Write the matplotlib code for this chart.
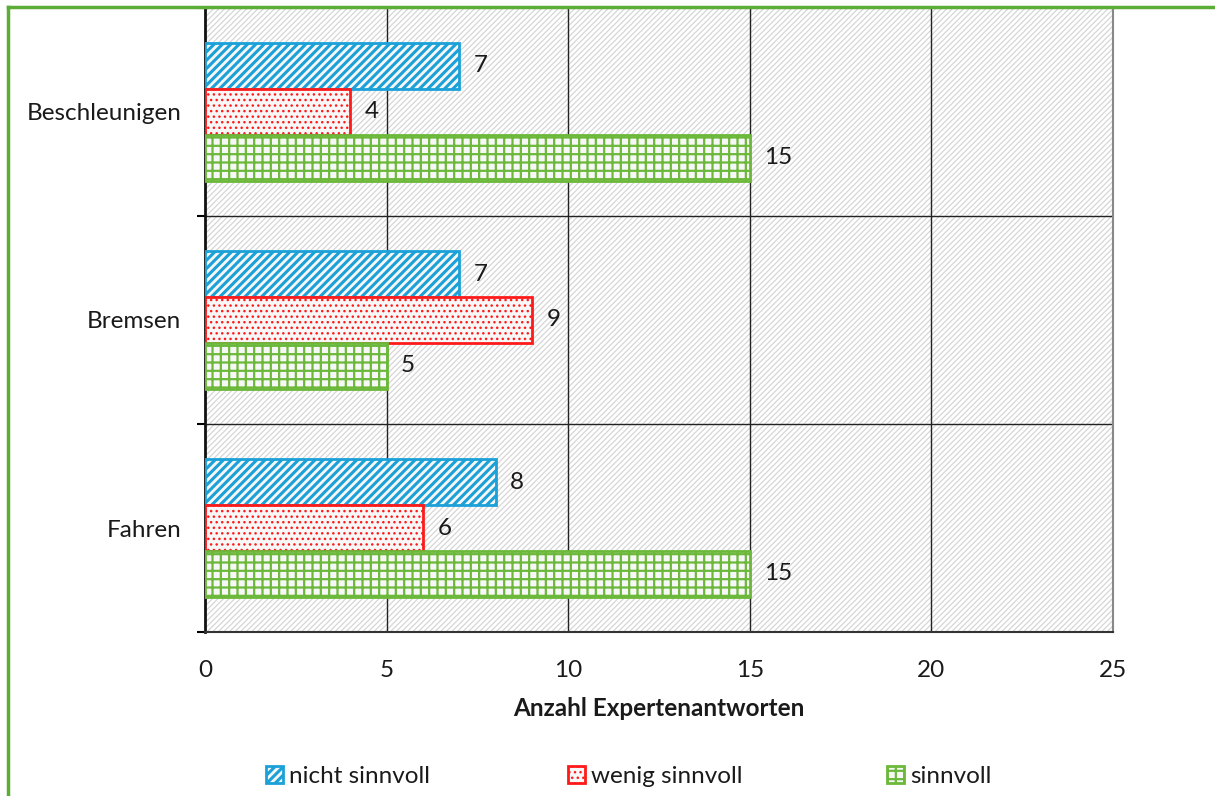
import numpy as np
import matplotlib
matplotlib.use('Agg')
import matplotlib.pyplot as plt
import matplotlib.patches as mpatches
from matplotlib.lines import Line2D

plt.rcParams['font.family'] = ['Lato', 'DejaVu Sans']

# data (top to bottom as in the chart)
categories = ['Beschleunigen', 'Bremsen', 'Fahren']
series = ['nicht sinnvoll', 'wenig sinnvoll', 'sinnvoll']
nicht_sinnvoll = [7, 7, 8]
wenig_sinnvoll = [4, 9, 6]
sinnvoll = [15, 5, 15]
x_ticks = [0, 5, 10, 15, 20, 25]

colors = ['#1ba1d8', '#ff1a1a', '#6bb83a']
hatches = ['////', '...', '++']
hatch_lw = [2.2, 1.0, 1.6]
values = [nicht_sinnvoll, wenig_sinnvoll, sinnvoll]
FS = 17.5
TXT = '#1a1a1a'

fig = plt.figure(figsize=(12.15, 7.96), dpi=100)
ax = fig.add_axes([0.1687, 0.206, 0.916 - 0.1687, 0.990 - 0.206])

# hatched grey background of the plot area
plt.rcParams['hatch.linewidth'] = 0.9
bg = mpatches.Rectangle((0, 0), 1, 1, transform=ax.transAxes, facecolor='white',
                        edgecolor='#d6d6d6', hatch='//////', linewidth=0, zorder=0)
ax.add_patch(bg)

n = len(categories)
ypos = np.arange(n)[::-1] + 0.5   # category centres
h = 0.221
for i, (vals, c, ht) in enumerate(zip(values, colors, hatches)):
    plt.rcParams['hatch.linewidth'] = hatch_lw[i]
    yy = ypos + (1 - i) * h
    bars = ax.barh(yy, vals, height=h, facecolor='#f7f7f7', edgecolor=c,
                   hatch=ht, linewidth=2, zorder=3, label=series[i])
    for b, v in zip(bars, vals):
        ax.text(v + 0.4, b.get_y() + h / 2, str(v), va='center', ha='left',
                fontsize=FS, color=TXT, zorder=4)

ax.set_xlim(0, 25)
ax.set_ylim(0, n)
ax.set_xticks(x_ticks)
ax.set_xticklabels([str(t) for t in x_ticks], fontsize=FS, color=TXT)
ax.set_yticks(np.arange(n + 1))
ax.set_yticklabels([])
ax.set_yticks(ypos, minor=True)
ax.set_yticklabels(categories, minor=True, fontsize=FS, color=TXT)
ax.tick_params(axis='y', which='minor', length=0, pad=17)
ax.tick_params(axis='y', which='major', length=6, width=1.5, direction='out')
ax.tick_params(axis='x', length=0, pad=20)
ax.set_xlabel('Anzahl Expertenantworten', fontsize=FS, fontweight='bold',
              labelpad=12, color=TXT)

for xv in x_ticks[1:-1]:
    ax.axvline(xv, color='#222222', linewidth=1, zorder=1)
for yv in range(1, n):
    ax.axhline(yv, color='#222222', linewidth=1, zorder=1)

ax.spines['left'].set_linewidth(2)
ax.spines['left'].set_color('#111111')
ax.spines['bottom'].set_color('#333333')
ax.spines['bottom'].set_linewidth(1.5)
ax.spines['right'].set_color('#888888')
ax.spines['right'].set_linewidth(1.5)
ax.spines['top'].set_visible(False)

# green frame (left and top)
fig.add_artist(Line2D([8 / 1215, 8 / 1215], [0, 1 - 7 / 796], transform=fig.transFigure,
                      color='#5cad35', linewidth=2.5))
fig.add_artist(Line2D([8 / 1215, 1], [1 - 7 / 796, 1 - 7 / 796], transform=fig.transFigure,
                      color='#5cad35', linewidth=2.5))

# legend entries placed one by one
leg_x = [266, 568, 887]
for i, (c, ht, s, lx) in enumerate(zip(colors, hatches, series, leg_x)):
    plt.rcParams['hatch.linewidth'] = hatch_lw[i]
    p = mpatches.Patch(facecolor='#f7f7f7', edgecolor=c, hatch=ht, linewidth=2, label=s)
    lg = fig.legend(handles=[p], loc='center left', bbox_to_anchor=(lx / 1215, 0.025),
                    frameon=False, fontsize=FS, handlelength=0.7, handleheight=0.7,
                    handletextpad=0.25, borderpad=0, borderaxespad=0)
    for t in lg.get_texts():
        t.set_color(TXT)

fig.savefig('out.png', dpi=100)
